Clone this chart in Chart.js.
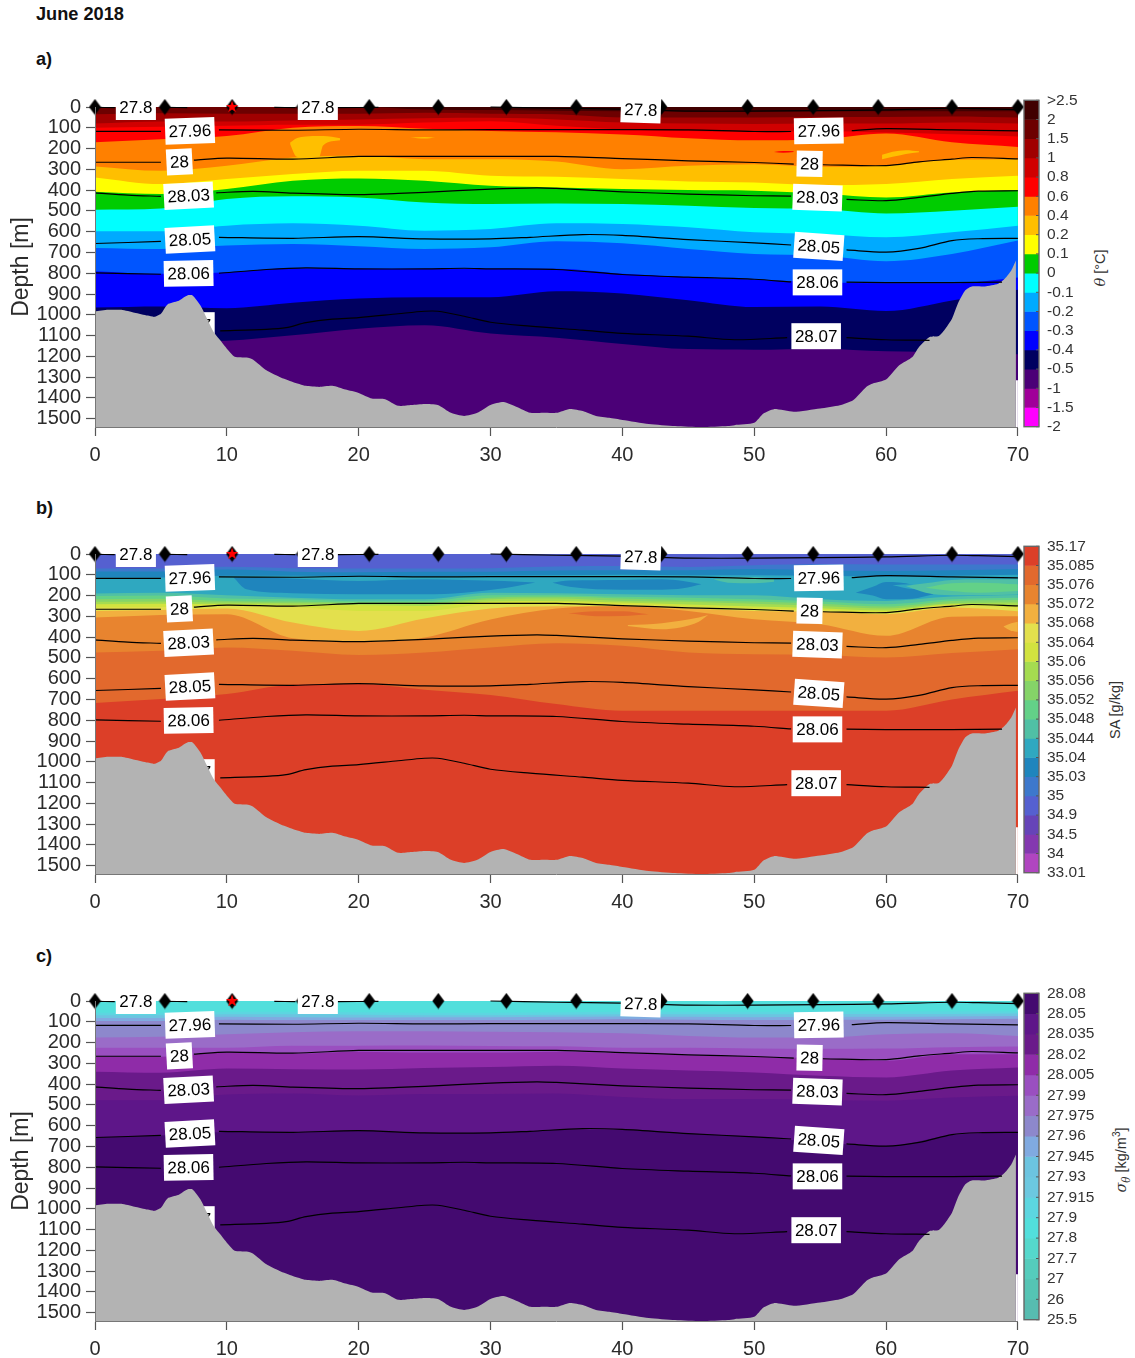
<!doctype html>
<html lang="en">
    <head>
        <meta charset="UTF-8" />
        <title>June 2018</title>
        <script src="https://cdn.jsdelivr.net/npm/chart.js"></script>
        <style>
            body { margin: 0; background: #fff; overflow: hidden; font-family: 'Liberation Sans', Arial, sans-serif; }
            canvas { position: absolute; }
            .head { position: absolute; left: 36px; font-weight: bold; font-size: 18.2px; color: #111; line-height: 20px; }
            .cbtitle { position: absolute; font-size: 14.5px; color: #333; white-space: nowrap; transform: translate(-50%, -50%) rotate(-90deg); }
            .greek { font-family: 'DejaVu Serif', serif; font-style: italic; }
            sub, sup { font-size: 70%; line-height: 0; }
        </style>
    </head>

    <body>
        <div class="head" style="top: 4px">June 2018</div>
        <div class="head" style="top: 49px">a)</div>
        <div class="head" style="top: 498px">b)</div>
        <div class="head" style="top: 946px">c)</div>
        <div class="cbtitle" style="left: 1100px; top: 268px"><span class="greek">θ</span> [°C]</div>
        <div class="cbtitle" style="left: 1115px; top: 710px">SA [g/kg]</div>
        <div class="cbtitle" style="left: 1121px; top: 1160px"><span class="greek">σ<sub>θ</sub></span> [kg/m<sup>3</sup>]</div>

        <canvas id="mainA" width="1036" height="374" style="left: 0; top: 90px"></canvas>
        <canvas id="mainB" width="1036" height="374" style="left: 0; top: 537px"></canvas>
        <canvas id="mainC" width="1036" height="374" style="left: 0; top: 984px"></canvas>
        <canvas id="barA" width="113" height="361" style="left: 1022px; top: 83px"></canvas>
        <canvas id="barB" width="113" height="361" style="left: 1022px; top: 529px"></canvas>
        <canvas id="barC" width="113" height="361" style="left: 1022px; top: 976px"></canvas>

        <script>
            Chart.defaults.font.family = '"Liberation Sans", Arial, sans-serif'

            // distance along section [km], every band boundary is read at these
            const km = [0, 5, 10, 15, 20, 25, 30, 35, 40, 45, 50, 55, 60, 65, 70]

            // a) potential temperature: depth of the upper edge of each colour
            const thetaColors = ['#6d0000', '#400000', '#6d0000', '#a00000', '#d00000', '#ff0000', '#ff8000', '#ffbf00', '#ffff00', '#00cc00', '#00ffff', '#00aaff', '#0055ff', '#0000ff', '#000060', '#4b0077']
            const thetaDepths = [
                [0, 0, 0, 0, 0, 0, 0, 0, 0, 0, 0, 0, 0, 0, 0],
                [0, 0, 0, 0, 0, 0, 0, 0, 0, 0, 0, 0, 0, 0, 0],
                [0, 0, 0, 0, 0, 12, 15, 18, 20, 20, 20, 20, 20, 20, 20],
                [35, 30, 32, 32, 32, 28, 32, 35, 50, 50, 50, 48, 48, 46, 51],
                [80, 70, 70, 65, 60, 54, 52, 60, 75, 80, 82, 80, 80, 75, 80],
                [100, 95, 90, 85, 85, 75, 68, 90, 108, 115, 120, 115, 123, 131, 142],
                [170, 155, 140, 100, 92, 105, 115, 122, 132, 150, 160, 155, 128, 170, 192],
                [286, 307, 283, 243, 235, 251, 251, 262, 299, 283, 275, 288, 283, 254, 251],
                [339, 371, 347, 323, 307, 307, 331, 336, 347, 358, 363, 376, 371, 347, 331],
                [408, 419, 395, 355, 344, 355, 379, 387, 395, 400, 403, 416, 435, 411, 400],
                [494, 488, 443, 430, 435, 459, 467, 464, 467, 475, 486, 491, 512, 499, 480],
                [598, 598, 571, 560, 571, 595, 587, 560, 563, 579, 603, 611, 627, 603, 571],
                [678, 683, 667, 659, 670, 683, 675, 646, 656, 683, 707, 715, 742, 707, 643],
                [790, 803, 795, 776, 779, 779, 779, 779, 803, 819, 830, 843, 848, 848, 820],
                [965, 960, 968, 942, 922, 916, 916, 887, 897, 930, 963, 960, 982, 931, 880],
                [1130, 1130, 1125, 1099, 1067, 1050, 1090, 1110, 1140, 1165, 1168, 1163, 1176, 1180, 1190],
            ]
            // closed patches inside the bands: colour, km, upper depth, lower depth
            const thetaPatches = [
                ['#ffbf00', [14.8, 15.3, 16, 17, 17.3, 18.6], [171, 150, 142, 139, 139, 150], [179, 240, 245, 240, 185, 160]],
                ['#ffbf00', [59.7, 60.5, 61.5, 62.5], [230, 215, 208, 213], [251, 240, 226, 218]],
                ['#ffbf00', [23.9, 25, 25.8], [147, 144, 147], [147, 152, 147]],
                ['#ff0000', [51.5, 52.2, 53], [216, 212, 213], [216, 220, 216]],
            ]
            const thetaTicks = ['>2.5', '2', '1.5', '1', '0.8', '0.6', '0.4', '0.2', '0.1', '0', '-0.1', '-0.2', '-0.3', '-0.4', '-0.5', '-1', '-1.5', '-2']
            const thetaBar = ['#400000', '#6d0000', '#a00000', '#d00000', '#ff0000', '#ff8000', '#ffbf00', '#ffff00', '#00cc00', '#00ffff', '#00aaff', '#0055ff', '#0000ff', '#000060', '#4b0077', '#a00099', '#ff00ff']

            // b) absolute salinity
            const saColors = ['#5560d0', '#3d78cc', '#1f85bd', '#2fa8c0', '#50c0a5', '#63d188', '#85d468', '#a5dc50', '#d2e33f', '#e3e04d', '#f2b03f', '#e8842f', '#e2692d', '#dc3f28']
            const saDepths = [
                [0, 0, 0, 0, 0, 0, 0, 0, 0, 0, 0, 0, 0, 0, 0],
                [70, 70, 61, 68, 70, 70, 68, 60, 58, 62, 54, 48, 50, 50, 50],
                [84, 84, 75, 85, 88, 85, 85, 80, 78, 78, 72, 78, 82, 78, 72],
                [113, 113, 105, 105, 108, 108, 104, 102, 100, 102, 102, 105, 108, 105, 100],
                [190, 186, 198, 210, 218, 218, 186, 189, 194, 198, 198, 218, 226, 205, 197],
                [202, 200, 214, 218, 227, 226, 198, 198, 206, 211, 218, 229, 242, 218, 210],
                [218, 215, 226, 229, 234, 234, 210, 206, 214, 222, 229, 240, 253, 226, 221],
                [230, 228, 234, 237, 240, 242, 218, 214, 226, 230, 240, 250, 262, 237, 234],
                [242, 240, 242, 245, 246, 250, 229, 226, 234, 243, 253, 261, 272, 242, 245],
                [258, 255, 250, 254, 274, 274, 242, 242, 242, 254, 262, 270, 282, 246, 258],
                [274, 269, 262, 330, 370, 310, 262, 252, 250, 262, 274, 278, 290, 258, 275],
                [306, 294, 290, 406, 422, 402, 315, 262, 252, 274, 314, 338, 394, 302, 300],
                [474, 466, 450, 466, 486, 474, 450, 429, 442, 474, 482, 486, 498, 477, 458],
                [717, 698, 674, 629, 626, 653, 678, 722, 754, 754, 754, 754, 754, 700, 658],
            ]
            const saPatches = [
                ['#1f85bd', [10.5, 11.5, 15, 20, 25, 28, 31, 33.4], [113, 113, 118, 130, 122, 125, 130, 137], [113, 170, 189, 194, 194, 186, 165, 137]],
                ['#1f85bd', [34.7, 36, 40, 43, 44.6, 46], [138, 128, 125, 122, 130, 145], [138, 158, 172, 172, 165, 145]],
                ['#1f85bd', [57.7, 59, 60, 62, 63.6], [186, 158, 135, 148, 194], [186, 200, 218, 215, 194]],
                ['#2fa8c0', [60.5, 62, 63.6], [150, 146, 160], [150, 168, 170]],
                ['#50c0a5', [61.5, 63, 65, 67, 70], [154, 141, 125, 122, 122], [154, 186, 198, 198, 195]],
                ['#63d188', [63, 65, 67, 70], [162, 141, 138, 146], [162, 178, 186, 178]],
                ['#50c0a5', [46.9, 48, 50, 51.5], [122, 114, 112, 118], [122, 138, 141, 134]],
                ['#e2692d', [35.9, 38, 40, 42], [285, 275, 275, 290], [285, 299, 298, 290]],
                ['#f2b03f', [40.4, 43, 45.8, 46.5], [342, 333, 306, 294], [346, 362, 326, 294]],
                ['#f2b03f', [68.9, 69.5, 70], [349, 333, 326], [349, 370, 374]],
            ]
            const saTicks = ['35.17', '35.085', '35.076', '35.072', '35.068', '35.064', '35.06', '35.056', '35.052', '35.048', '35.044', '35.04', '35.03', '35', '34.9', '34.5', '34', '33.01']
            const saBar = ['#dc3f28', '#e2692d', '#e8842f', '#f2b03f', '#e3e04d', '#d2e33f', '#a5dc50', '#85d468', '#63d188', '#50c0a5', '#2fa8c0', '#1f85bd', '#3d78cc', '#5560d0', '#6644b8', '#8438b0', '#b045c0']

            // c) potential density
            const sigmaColors = ['#52dfdc', '#5cd6e0', '#6cc4e0', '#80aae0', '#8d88cc', '#9a6cc8', '#9a4fc0', '#8f2ca8', '#6a1a8a', '#5e1689', '#440a70']
            const sigmaDepths = [
                [0, 0, 0, 0, 0, 0, 0, 0, 0, 0, 0, 0, 0, 0, 0],
                [56, 56, 52, 52, 54, 56, 56, 54, 52, 52, 52, 50, 50, 50, 50],
                [68, 68, 64, 64, 66, 68, 68, 66, 64, 64, 64, 62, 62, 62, 60],
                [82, 82, 76, 78, 80, 78, 78, 76, 74, 76, 78, 76, 76, 74, 72],
                [96, 96, 90, 92, 92, 92, 92, 90, 88, 90, 92, 90, 90, 88, 86],
                [176, 172, 160, 150, 146, 145, 148, 150, 155, 168, 176, 176, 160, 155, 168],
                [225, 225, 225, 215, 215, 214, 216, 218, 225, 225, 228, 230, 229, 222, 219],
                [268, 268, 248, 254, 244, 248, 248, 244, 252, 262, 268, 276, 288, 256, 256],
                [340, 345, 325, 328, 330, 323, 318, 312, 325, 335, 344, 360, 368, 335, 320],
                [478, 478, 450, 445, 455, 448, 448, 445, 462, 472, 472, 476, 480, 465, 456],
                [657, 647, 630, 632, 624, 635, 635, 620, 618, 638, 654, 680, 698, 645, 630],
            ]
            const sigmaPatches = []
            const sigmaTicks = ['28.08', '28.05', '28.035', '28.02', '28.005', '27.99', '27.975', '27.96', '27.945', '27.93', '27.915', '27.9', '27.8', '27.7', '27', '26', '25.5']
            const sigmaBar = ['#440a70', '#5e1689', '#6a1a8a', '#8f2ca8', '#9a4fc0', '#9a6cc8', '#8d88cc', '#80aae0', '#6cc4e0', '#6cc8e0', '#5cd6e0', '#52dfdc', '#55d8cc', '#55ccbc', '#55c4b4', '#57bcb0']

            // sea floor
            const floorKm = [0, 1, 2, 3, 4, 4.5, 5, 5.5, 6.3, 7, 7.4, 8, 8.5, 9, 9.5, 10, 10.6, 11.5, 12, 13, 14, 15, 16, 17, 18, 19, 20, 21, 22, 23, 24, 25, 26, 27, 28, 29, 30, 31, 32, 33, 34, 35, 36, 37, 38, 39, 40, 42, 44, 46, 48, 48.5, 50, 50.7, 51.5, 53, 55, 56.5, 57.5, 58.5, 59, 60, 61, 62, 62.5, 63.3, 64, 64.5, 65, 65.5, 66, 66.5, 67.5, 68.5, 69, 69.5, 69.85]
            const floorDepth = [984, 976, 976, 990, 1004, 1010, 995, 950, 934, 907, 907, 955, 1019, 1083, 1123, 1163, 1202, 1206, 1216, 1267, 1299, 1323, 1342, 1347, 1342, 1360, 1376, 1403, 1406, 1438, 1434, 1429, 1434, 1472, 1487, 1472, 1434, 1420, 1444, 1472, 1472, 1472, 1453, 1463, 1487, 1496, 1506, 1525, 1535, 1540, 1535, 1531, 1520, 1475, 1454, 1467, 1451, 1435, 1411, 1347, 1331, 1312, 1243, 1203, 1155, 1107, 1102, 1067, 1019, 939, 883, 864, 864, 851, 827, 787, 739]
            const edgeKm = [69.85, 70]
            const edgeDepth = [1315, 1315]

            // isopycnals, null breaks the line where a label sits
            const iso278Km = [0, 1.5, 1.6, 5.4, 7, 7.1, 13.6, 15.2, 15.3, 18.4, 21.5, 21.6, 30, 35, 40, 40.1, 42.7, 45, 50, 55, 60, 65, 67, 70]
            const iso278 = [2, 3, null, 2, 3, null, 2, 3, null, 3, 2, null, 0, 6, 10, null, 16, 20, 20, 17, 14, 6, 8, 13]
            const iso2796Km = [0, 5, 5.1, 9.4, 15, 20, 25, 30, 35, 40, 45, 50, 52.8, 52.9, 57.4, 60, 65, 70]
            const iso2796 = [117, 117, null, 110, 112, 107, 110, 109, 109, 109, 110, 118, 118, null, 114, 104, 110, 115]
            const iso28Km = [0, 5, 5.1, 7.5, 10, 15, 20, 25, 30, 35, 40, 45, 50, 53, 53.1, 55.2, 60, 62.5, 65, 66.5, 70]
            const iso28 = [266, 266, null, 256, 246, 251, 238, 238, 238, 238, 248, 259, 267, 275, null, 278, 282, 264, 251, 243, 250]
            const iso2803Km = [0, 2.5, 5, 5.1, 9.2, 12, 15, 20, 23, 25, 30, 33.5, 35, 40, 45, 50, 52.8, 52.9, 57, 60, 62.5, 65, 67, 70]
            const iso2803 = [413, 424, 430, null, 413, 406, 414, 422, 416, 411, 395, 389, 392, 408, 419, 427, 429, null, 445, 451, 435, 416, 405, 403]
            const iso2805Km = [0, 5, 5.1, 9.4, 15, 20, 25, 30, 33, 37, 40, 45, 50, 52.8, 52.9, 57, 60, 62.5, 65, 67, 70]
            const iso2805 = [657, 647, null, 627, 632, 624, 635, 635, 627, 614, 618, 638, 654, 664, null, 688, 698, 680, 643, 634, 632]
            const iso2806Km = [0, 5, 5.1, 9.4, 13, 16, 20, 25, 28, 30, 35, 40, 45, 50, 52.8, 52.9, 57, 60, 65, 68.8]
            const iso2806 = [798, 805, null, 800, 782, 774, 779, 779, 776, 779, 782, 806, 819, 829, 842, null, 843, 845, 845, 843]
            const iso2807Km = [9.5, 13, 14.5, 16, 18, 20, 23, 25, 26, 28, 30, 33, 37, 40, 45, 48.5, 52.5, 52.6, 57, 60, 63.3]
            const iso2807 = [1077, 1070, 1062, 1038, 1021, 1014, 995, 983, 983, 1007, 1036, 1055, 1074, 1089, 1103, 1120, 1110, null, 1110, 1120, 1123]

            // inline contour labels
            const labelText = ['27.8', '27.8', '27.8', '27.96', '27.96', '28', '28', '28.03', '28.03', '28.05', '28.05', '28.06', '28.06', '28.07']
            const labelKm = [3.1, 16.9, 41.4, 7.2, 54.9, 6.4, 54.2, 7.1, 54.8, 7.2, 54.9, 7.1, 54.8, 54.7]
            const labelDepth = [0, 0, 14, 115, 115, 264, 273, 427, 436, 638, 671, 801, 844, 1103]
            const labelTilt = [0, 0, 2, -2, -1, -3, 1, -3, 2, -3, 4, -1, 0, 0]
            // this one sits behind the sea floor, only a corner shows
            const hiddenLabel = { text: '28.07', km: 7.2, depth: 1050 }

            const stationKm = [0, 5.3, 10.4, 15.7, 20.8, 26.04, 31.2, 36.5, 42.96, 49.5, 54.47, 59.4, 65, 70]
            const starKm = [10.4]

            const xTicks = [0, 10, 20, 30, 40, 50, 60, 70]

            function pts(xs, ys) {
                return xs.map((x, i) => ({ x: x, y: ys[i] }))
            }

            function diamondIcon() {
                const c = document.createElement('canvas')
                c.width = 13
                c.height = 17
                const g = c.getContext('2d')
                g.fillStyle = '#000'
                g.beginPath()
                g.moveTo(6.5, 0.5)
                g.lineTo(12.5, 8.5)
                g.lineTo(6.5, 16.5)
                g.lineTo(0.5, 8.5)
                g.closePath()
                g.fill()
                return c
            }

            function starIcon() {
                const c = document.createElement('canvas')
                c.width = 14
                c.height = 14
                const g = c.getContext('2d')
                g.fillStyle = '#f00'
                g.beginPath()
                for (let i = 0; i < 10; i++) {
                    const r = i % 2 ? 2.6 : 6.5
                    const a = -Math.PI / 2 + i * Math.PI / 5
                    g.lineTo(7 + r * Math.cos(a), 7 + r * Math.sin(a))
                }
                g.closePath()
                g.fill()
                return c
            }

            const diamond = diamondIcon()
            const star = starIcon()

            function drawLabel(chart, text, lkm, depth, tilt) {
                const ctx = chart.ctx
                const px = chart.scales.x.getPixelForValue(lkm)
                const py = chart.scales.y.getPixelForValue(depth)
                ctx.save()
                ctx.translate(px, py)
                ctx.rotate(tilt * Math.PI / 180)
                ctx.font = '17px "Liberation Sans", Arial, sans-serif'
                const w = ctx.measureText(text).width + 7
                ctx.fillStyle = '#fff'
                ctx.fillRect(-w / 2, -13, w, 26)
                ctx.fillStyle = '#000'
                ctx.textAlign = 'center'
                ctx.textBaseline = 'middle'
                ctx.fillText(text, 0, 1)
                ctx.restore()
            }

            const labelsPlugin = {
                id: 'contourLabels',
                afterDatasetDraw(chart, args) {
                    // filler paints the floor before any plugin hook of that dataset, so go one earlier
                    const next = chart.data.datasets[args.index + 1]
                    if (next && next.label === 'floor') {
                        drawLabel(chart, hiddenLabel.text, hiddenLabel.km, hiddenLabel.depth, 0)
                    }
                },
                afterDatasetsDraw(chart) {
                    labelText.forEach((t, i) => drawLabel(chart, t, labelKm[i], labelDepth[i], labelTilt[i]))
                },
            }

            function buildDatasets(colors, depths, patches) {
                const list = []
                colors.forEach((color, i) => {
                    list.push({ label: 'band', data: pts(km, depths[i]), backgroundColor: color, fill: 'start', borderWidth: 0, cubicInterpolationMode: 'monotone' })
                })
                patches.forEach((p) => {
                    list.push({ label: 'patch', data: pts(p[1], p[2]), backgroundColor: p[0], fill: '+1', borderWidth: 0, cubicInterpolationMode: 'monotone' })
                    list.push({ label: 'patch edge', data: pts(p[1], p[3]), fill: false, borderWidth: 0, cubicInterpolationMode: 'monotone' })
                })
                list.push({ label: 'floor', data: pts(floorKm, floorDepth), backgroundColor: '#b3b3b3', fill: 'start', borderWidth: 0, tension: 0.2 })
                list.push({ label: 'edge', data: pts(edgeKm, edgeDepth), backgroundColor: '#fff', fill: 'start', borderWidth: 0 })
                const iso = [[iso278Km, iso278], [iso2796Km, iso2796], [iso28Km, iso28], [iso2803Km, iso2803], [iso2805Km, iso2805], [iso2806Km, iso2806], [iso2807Km, iso2807]]
                iso.forEach((c) => {
                    list.push({ label: 'isopycnal', data: pts(c[0], c[1]), borderColor: '#000', borderWidth: 1.2, fill: false, clip: false, tension: 0.3 })
                })
                list.push({ label: 'stations', data: stationKm.map((x) => ({ x: x, y: 0 })), showLine: false, pointStyle: diamond, pointRadius: 7, clip: false })
                list.push({ label: 'star', data: starKm.map((x) => ({ x: x, y: 0 })), showLine: false, pointStyle: star, pointRadius: 7, clip: false })
                // first dataset is painted first, the rest on top of it
                list.forEach((d, i) => {
                    d.order = -i
                    if (d.pointRadius === undefined) d.pointRadius = 0
                })
                return list
            }

            function mainChart(id, colors, depths, patches, yTitle) {
                return new Chart(document.getElementById(id), {
                    type: 'line',
                    data: { datasets: buildDatasets(colors, depths, patches) },
                    plugins: [labelsPlugin],
                    options: {
                        responsive: false,
                        animation: false,
                        events: [],
                        layout: { padding: { top: 16, right: 9 } },
                        plugins: { legend: { display: false }, tooltip: { enabled: false } },
                        scales: {
                            x: {
                                type: 'linear',
                                min: 0,
                                max: 70,
                                afterFit: (s) => { s.height = 37 },
                                afterBuildTicks: (s) => { s.ticks = xTicks.map((v) => ({ value: v })) },
                                grid: { drawOnChartArea: false, tickLength: 9, tickColor: '#555', tickWidth: 1.2 },
                                border: { color: '#777', width: 1, z: 1 },
                                ticks: { font: { size: 20 }, color: '#2b2b2b', padding: 7, maxRotation: 0 },
                            },
                            y: {
                                type: 'linear',
                                reverse: true,
                                min: 0,
                                max: 1540,
                                afterFit: (s) => { s.width = 95 },
                                grid: { drawOnChartArea: false, tickLength: 9, tickColor: '#555', tickWidth: 1.2 },
                                border: { color: '#777', width: 1, z: 1 },
                                title: { display: !!yTitle, text: yTitle, font: { size: 23 }, color: '#2b2b2b', padding: { top: 8, bottom: 0 } },
                                ticks: { stepSize: 100, includeBounds: false, autoSkip: false, font: { size: 20 }, color: '#2b2b2b', padding: 5, callback: (v) => String(v) },
                            },
                        },
                    },
                })
            }

            const barFrame = {
                id: 'barFrame',
                afterDatasetsDraw(chart) {
                    const { ctx, chartArea: a, scales } = chart
                    ctx.save()
                    ctx.strokeStyle = '#555'
                    ctx.lineWidth = 1
                    scales.y.ticks.forEach((t) => {
                        const y = scales.y.getPixelForValue(t.value)
                        ctx.beginPath()
                        ctx.moveTo(a.right, y)
                        ctx.lineTo(a.right - 3, y)
                        ctx.stroke()
                    })
                    ctx.strokeStyle = '#666'
                    ctx.lineWidth = 1.4
                    ctx.strokeRect(a.left, a.top, a.right - a.left, a.bottom - a.top)
                    ctx.restore()
                },
            }

            function colorBar(id, colors, tickLabels) {
                return new Chart(document.getElementById(id), {
                    type: 'bar',
                    data: {
                        labels: [''],
                        datasets: colors.map((c) => ({ data: [1], backgroundColor: c, barPercentage: 1, categoryPercentage: 1, stack: 's' })),
                    },
                    plugins: [barFrame],
                    options: {
                        responsive: false,
                        animation: false,
                        events: [],
                        layout: { padding: { left: 2, top: 12, bottom: 12 } },
                        plugins: { legend: { display: false }, tooltip: { enabled: false } },
                        scales: {
                            x: { display: false, stacked: true },
                            y: {
                                position: 'right',
                                stacked: true,
                                reverse: true,
                                min: 0,
                                max: colors.length,
                                afterFit: (s) => { s.width = 96 },
                                grid: { display: false, drawTicks: false },
                                border: { display: false },
                                ticks: {
                                    stepSize: 1,
                                    autoSkip: false,
                                    padding: 8,
                                    font: { size: 15.5 },
                                    color: '#333',
                                    callback: (v) => tickLabels[v],
                                },
                            },
                        },
                    },
                })
            }

            mainChart('mainA', thetaColors, thetaDepths, thetaPatches, 'Depth [m]')
            mainChart('mainB', saColors, saDepths, saPatches, '')
            mainChart('mainC', sigmaColors, sigmaDepths, sigmaPatches, 'Depth [m]')
            colorBar('barA', thetaBar, thetaTicks)
            colorBar('barB', saBar, saTicks)
            colorBar('barC', sigmaBar, sigmaTicks)
        </script>
    </body>
</html>
